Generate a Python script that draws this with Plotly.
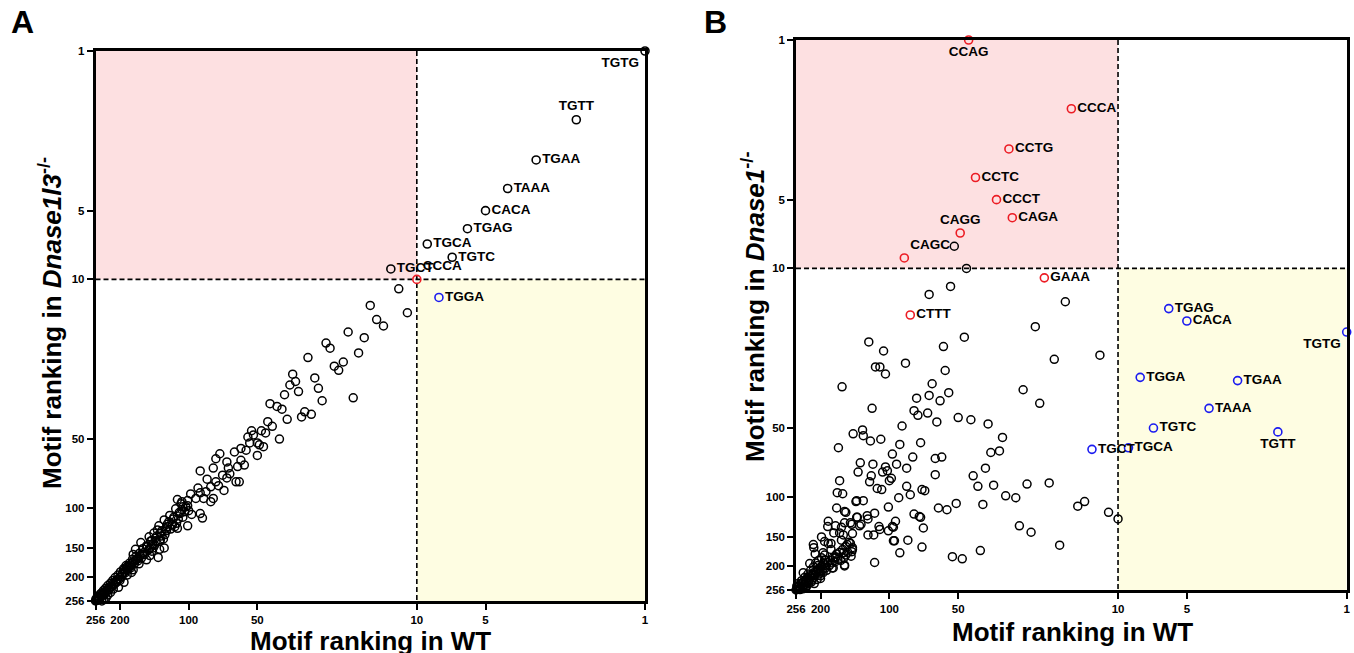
import math
import plotly.graph_objects as go

# ---------------- Panel A : rank in WT vs rank in Dnase1l3-/- ----------------
a_black = [
    (12, 11), (16, 13), (11, 14), (15, 15), (14, 16), (20, 17), (17, 18), (25, 19), (24, 20), (18, 21),
    (30, 22), (21, 23), (23, 24), (22, 25), (35, 26), (28, 27), (34, 28), (36, 29), (27, 30), (33, 31),
    (38, 32), (19, 33), (26, 34), (44, 35), (41, 36), (39, 37), (31, 38), (29, 39), (32, 40), (37, 41),
    (45, 42), (43, 44), (48, 46), (53, 46), (46, 47), (55, 49), (52, 48), (40, 50), (50, 52), (54, 52),
    (47, 54), (49, 53), (56, 56), (59, 55), (50, 59), (63, 57), (73, 58), (76, 61), (68, 63), (59, 62),
    (57, 65), (61, 66), (67, 67), (71, 72), (89, 69), (78, 67), (83, 75), (66, 71), (62, 77), (60, 77),
    (68, 74), (70, 84), (76, 77), (74, 80), (80, 81), (84, 85), (89, 86), (80, 94), (87, 111), (97, 107),
    (112, 92), (98, 87), (93, 91), (101, 98), (107, 102), (101, 120), (116, 110), (109, 106), (122, 115),
    (128, 113), (126, 124), (133, 129), (137, 125), (128, 150), (134, 152), (140, 136), (144, 145),
    (152, 148), (148, 162), (136, 165), (162, 142), (171, 152), (157, 157), (168, 168), (178, 192),
    (177, 174), (186, 181), (192, 187), (91, 82), (86, 91), (78, 91), (106, 99), (114, 101), (101, 93),
    (107, 94), (89, 106), (118, 119), (124, 121), (112, 123), (142, 129), (149, 134), (133, 138),
    (145, 155), (159, 160), (153, 169), (175, 160), (165, 176), (181, 181), (175, 187), (186, 197),
    (195, 194), (200, 208), (192, 212), (208, 213), (203, 223), (214, 227), (220, 235), (226, 241),
    (230, 248), (235, 252), (240, 256),
    (150, 153), (153, 147), (156, 160), (159, 151), (161, 166), (164, 158), (167, 171), (170, 163),
    (173, 176), (176, 168), (179, 183), (182, 175), (185, 188), (188, 179), (190, 193), (193, 185),
    (196, 200), (199, 191), (201, 205), (204, 197), (207, 211), (210, 202), (212, 217), (215, 208),
    (218, 222), (220, 214), (223, 228), (226, 219), (228, 233), (231, 225), (233, 238), (236, 230),
    (238, 242), (241, 236), (243, 246), (245, 240), (247, 250), (249, 244), (251, 253), (252, 248),
    (254, 255), (255, 251), (256, 256), (253, 254), (250, 249), (246, 247), (242, 243), (239, 239),
    (234, 235), (229, 230), (224, 225), (219, 220), (214, 215), (209, 210), (205, 206), (200, 201),
    (196, 196), (191, 191), (187, 186), (183, 182), (179, 178), (175, 173), (171, 170), (167, 166),
    (163, 162), (100, 103), (103, 99), (106, 110), (110, 105), (113, 117), (117, 112), (120, 124),
    (124, 118), (127, 131), (131, 126), (134, 140), (138, 133), (141, 146), (145, 139), (148, 151),
    (104, 104), (111, 112), (118, 118), (125, 126), (132, 133), (139, 141), (146, 147), (115, 121),
    (129, 137), (143, 150), (108, 96), (121, 108), (135, 120), (147, 140),
]
a_lab_motifs = ["TGTG", "TGTT", "TGAA", "TAAA", "CACA", "TGAG", "TGCA", "TGTC", "TGCT"]
a_lab_wt = [1, 2, 3, 4, 5, 6, 9, 7, 13]
a_lab_ko = [1, 2, 3, 4, 5, 6, 7, 8, 9]
a_red_motifs = ["CCCA"]
a_red_wt = [10]
a_red_ko = [10]
a_blue_motifs = ["TGGA"]
a_blue_wt = [8]
a_blue_ko = [12]

# ---------------- Panel B : rank in WT vs rank in Dnase1-/- ----------------
b_black = [
    (52, 8), (46, 10), (54, 12), (67, 13), (17, 14), (23, 18), (47, 20), (58, 22), (106, 23), (12, 24),
    (19, 25), (85, 26), (110, 27), (57, 28), (104, 29), (65, 32), (26, 34), (76, 37), (67, 36), (55, 35),
    (60, 38), (22, 39), (78, 42), (68, 43), (75, 44), (50, 45), (44, 46), (62, 47), (88, 49), (37, 48),
    (32, 55), (109, 56), (90, 59), (73, 58), (123, 21), (115, 27), (161, 33), (119, 41), (131, 51),
    (144, 53), (130, 54), (121, 57), (167, 61), (97, 65), (79, 67), (93, 72), (134, 71), (118, 72),
    (137, 78), (120, 81), (122, 86), (104, 74), (102, 77), (98, 83), (84, 75), (84, 90), (81, 98),
    (63, 68), (59, 67), (63, 80), (43, 81), (41, 90), (35, 89), (38, 75), (36, 64), (33, 63), (25, 88),
    (20, 87), (31, 99), (28, 101), (39, 108), (51, 107), (56, 114), (61, 112), (15, 110), (14, 105),
    (11, 117), (10, 125), (27, 134), (24, 143), (18, 163), (40, 172), (53, 183), (48, 187), (71, 137),
    (78, 119), (74, 122), (72, 166), (83, 155), (90, 176), (95, 156), (101, 111), (94, 128), (101, 141),
    (97, 135), (116, 194), (110, 139), (116, 118), (117, 147), (124, 147), (125, 121), (139, 123),
    (139, 104), (130, 104), (133, 132), (146, 132), (145, 145), (155, 117), (157, 130), (162, 136),
    (170, 112), (169, 96), (160, 97), (165, 85), (185, 128), (186, 135), (175, 144), (159, 147),
    (198, 150), (180, 160), (214, 167), (211, 178), (148, 160), (145, 170), (155, 180), (157, 199),
    (172, 183), (178, 205), (192, 189), (200, 228), (190, 205), (206, 208), (113, 92), (108, 93),
    (140, 105), (91, 101), (72, 93), (70, 94), (157, 116), (138, 123), (124, 125), (73, 123), (172, 134),
    (148, 130), (165, 144), (135, 134), (111, 135), (96, 136), (96, 156), (215, 162), (195, 176),
    (180, 170), (176, 205), (157, 201), (195, 215), (223, 196), (238, 215), (153, 162), (145, 167),
    (162, 155), (185, 160), (192, 157), (146, 174), (159, 176), (172, 185), (190, 189), (205, 200),
    (200, 222), (223, 222), (211, 212), (107, 78), (100, 85),
    (256, 256), (253, 250), (250, 254), (248, 245), (245, 249), (243, 240), (240, 246), (238, 236),
    (235, 242), (232, 232), (230, 238), (228, 226), (226, 234), (224, 230), (220, 224), (218, 232),
    (216, 218), (214, 226), (212, 220), (209, 214), (207, 230), (205, 210), (203, 218), (201, 206),
    (199, 212), (197, 200), (195, 208), (193, 196), (190, 199), (188, 210), (186, 194), (183, 200),
    (181, 190), (178, 195), (176, 185), (173, 193), (170, 178), (168, 188), (165, 175), (163, 190),
    (160, 170), (158, 185), (155, 165), (152, 175), (150, 158), (147, 182), (244, 252), (236, 250),
    (230, 246), (225, 240), (219, 236), (213, 240), (242, 233), (234, 225), (227, 218), (221, 210),
    (215, 203), (210, 195), (204, 190), (198, 185), (192, 180), (250, 240), (254, 246), (246, 255),
    (239, 253), (232, 251),
]
b_red_motifs = ["CCAG", "CCCA", "CCTG", "CCTC", "CCCT", "CAGA", "CAGG", "CAGC", "GAAA", "CTTT"]
b_red_wt = [45, 16, 30, 42, 34, 29, 49, 86, 21, 81]
b_red_ko = [1, 2, 3, 4, 5, 6, 7, 9, 11, 16]
b_blue_motifs = ["TGAG", "CACA", "TGTG", "TGGA", "TGAA", "TAAA", "TGTC", "TGTT", "TGCA", "TGCT"]
b_blue_wt = [6, 5, 1, 8, 3, 4, 7, 2, 9, 13]
b_blue_ko = [15, 17, 19, 30, 31, 41, 50, 52, 61, 62]

x_ticks = [256, 200, 100, 50, 10, 5, 1]
y_ticks = [1, 5, 10, 50, 100, 150, 200, 256]
max_rank = 256
top_rank = 1
cutoff = 10

# ---------------- styles ----------------
label_pos = {
    "A": {"TGTG": "bottom left", "TGTT": "top center", "CCCA": "top right"},
    "B": {"CCAG": "bottom center", "CAGG": "top center", "CAGC": "top right",
          "TGTG": "bottom left", "TGTT": "bottom center"},
}
FONT = "Liberation Sans, Arial, sans-serif"
PINK = "#fde0e1"
YELLOW = "#fefde2"
RED = "#ec1c24"
BLUE = "#1b1bf0"
W, H = 1354, 653
panels = {
    "A": dict(xa="x", ya="y", px=(95.5, 645.0), py=(51.0, 601.0)),
    "B": dict(xa="x2", ya="y2", px=(796.0, 1346.7), py=(40.0, 590.0)),
}

fig = go.Figure()


def add_panel(key, black, groups):
    p = panels[key]
    xa, ya = p["xa"], p["ya"]
    # shaded quadrants
    fig.add_trace(go.Scatter(x=[max_rank, cutoff, cutoff, max_rank, max_rank],
                             y=[top_rank, top_rank, cutoff, cutoff, top_rank],
                             fill="toself", fillcolor=PINK, mode="lines", line=dict(width=0),
                             hoverinfo="skip", xaxis=xa, yaxis=ya))
    fig.add_trace(go.Scatter(x=[cutoff, top_rank, top_rank, cutoff, cutoff],
                             y=[cutoff, cutoff, max_rank, max_rank, cutoff],
                             fill="toself", fillcolor=YELLOW, mode="lines", line=dict(width=0),
                             hoverinfo="skip", xaxis=xa, yaxis=ya))
    # dashed cut-off lines
    dash = dict(color="black", width=1.6, dash="5px,3px")
    fig.add_trace(go.Scatter(x=[cutoff, cutoff], y=[top_rank, max_rank], mode="lines", line=dash,
                             hoverinfo="skip", xaxis=xa, yaxis=ya, cliponaxis=False))
    fig.add_trace(go.Scatter(x=[max_rank, top_rank], y=[cutoff, cutoff], mode="lines", line=dash,
                             hoverinfo="skip", xaxis=xa, yaxis=ya, cliponaxis=False))
    # background motifs
    fig.add_trace(go.Scatter(x=[b[0] for b in black], y=[b[1] for b in black], mode="markers",
                             marker=dict(symbol="circle-open", size=8, color="black",
                                         line=dict(width=1.5, color="black")),
                             xaxis=xa, yaxis=ya, cliponaxis=False))
    # labelled motifs
    for motifs, wt, ko, col in groups:
        pos = [label_pos[key].get(m, "middle right") for m in motifs]
        fig.add_trace(go.Scatter(x=wt, y=ko, text=motifs, mode="markers+text",
                                 textposition=pos,
                                 textfont=dict(family=FONT, size=13.5, color="black", weight="bold"),
                                 marker=dict(symbol="circle-open", size=8, color=col,
                                             line=dict(width=1.6, color=col)),
                                 xaxis=xa, yaxis=ya, cliponaxis=False))


add_panel("A", a_black, [
    (a_lab_motifs, a_lab_wt, a_lab_ko, "black"),
    (a_red_motifs, a_red_wt, a_red_ko, RED),
    (a_blue_motifs, a_blue_wt, a_blue_ko, BLUE),
])
add_panel("B", b_black, [
    (b_red_motifs, b_red_wt, b_red_ko, RED),
    (b_blue_motifs, b_blue_wt, b_blue_ko, BLUE),
])


def axis(tickvals, px_range, anchor, vertical):
    a0, a1 = px_range
    if vertical:
        dom = [1 - a1 / H, 1 - a0 / H]
    else:
        dom = [a0 / W, a1 / W]
    return dict(type="log", range=[math.log10(max_rank), math.log10(top_rank)], domain=dom,
                anchor=anchor, tickmode="array", tickvals=tickvals,
                ticktext=[str(v) for v in tickvals], ticks="outside", ticklen=6, tickwidth=2,
                tickcolor="black", showline=True, linewidth=2.5, linecolor="black", mirror=True,
                showgrid=False, zeroline=False, automargin=False,
                tickfont=dict(family=FONT, size=11.5, color="black", weight="bold"))


def ann(text, xpx, ypx, size, angle=0):
    return dict(text=text, x=xpx / W, y=1 - ypx / H, xref="paper", yref="paper",
                xanchor="center", yanchor="middle", showarrow=False, textangle=angle,
                font=dict(family=FONT, size=size, color="black", weight="bold"))


fig.update_layout(
    width=W, height=H, margin=dict(l=0, r=0, t=0, b=0, pad=0, autoexpand=False),
    paper_bgcolor="white", plot_bgcolor="white", showlegend=False,
    xaxis=axis(x_ticks, panels["A"]["px"], "y", False),
    yaxis=axis(y_ticks, panels["A"]["py"], "x", True),
    xaxis2=axis(x_ticks, panels["B"]["px"], "y2", False),
    yaxis2=axis(y_ticks, panels["B"]["py"], "x2", True),
    annotations=[
        ann("A", 22.5, 22, 32),
        ann("B", 715, 22, 32),
        ann("Motif ranking in WT", 370, 641, 26),
        ann("Motif ranking in WT", 1072, 631.5, 26),
        ann("Motif ranking in <i>Dnase1l3</i><sup>-/-</sup>", 51, 323, 26, -90),
        ann("Motif ranking in <i>Dnase1</i><sup>-/-</sup>", 753, 307, 26, -90),
    ],
)

fig.write_html(
    "out.html",
    config={"displayModeBar": False},
    post_script="document.body.style.margin='0';document.body.style.overflow='hidden';",
)
